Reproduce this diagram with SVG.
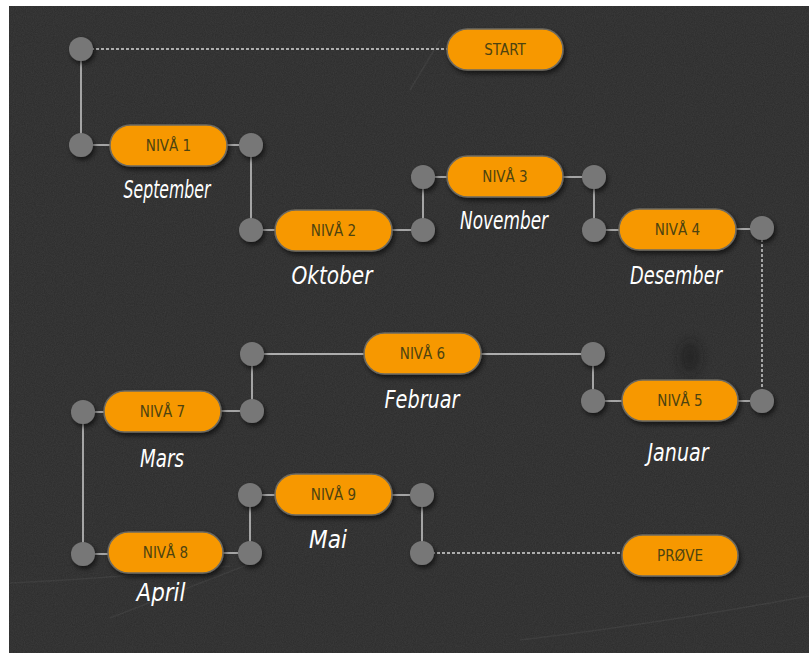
<svg xmlns="http://www.w3.org/2000/svg" width="809" height="653" viewBox="0 0 809 653">
  <defs>
    <filter id="grain" x="0" y="0" width="100%" height="100%">
      <feTurbulence type="fractalNoise" baseFrequency="0.9" numOctaves="2" seed="4" result="n"/>
      <feColorMatrix type="matrix" values="0 0 0 0 1  0 0 0 0 1  0 0 0 0 1  0 0 0 0.08 0" in="n"/>
    </filter>
    <filter id="soft" x="-100%" y="-100%" width="300%" height="300%">
      <feGaussianBlur stdDeviation="6"/>
    </filter>
    <filter id="shade" x="-30%" y="-40%" width="170%" height="200%">
      <feDropShadow dx="2" dy="3" stdDeviation="2.5" flood-color="#000" flood-opacity="0.6"/>
    </filter>
    <style>
      .board { fill: #2b2b2b; }
      .wire { stroke: #d6d6d6; stroke-width: 1.4; fill: none; }
      .dash { stroke: #d6d6d6; stroke-width: 1.4; fill: none; stroke-dasharray: 3 2; }
      .dot { fill: #777777; filter: url(#shade); }
      .pill { fill: #f79800; stroke: #6e6a60; stroke-width: 1.5; filter: url(#shade); }
      .lvl { font-family: "DejaVu Sans Condensed", "DejaVu Sans", sans-serif; font-size: 15px; fill: #4d4310; text-anchor: middle; }
      .month { font-family: "DejaVu Sans Condensed", "DejaVu Sans", sans-serif; font-style: italic; font-size: 25px; fill: #ffffff; text-anchor: middle; }
      .scratch { stroke: #ffffff; stroke-opacity: 0.05; stroke-width: 1.5; fill: none; }
    </style>
  </defs>

  <!-- chalkboard -->
  <rect x="0" y="0" width="809" height="653" fill="#ffffff"/>
  <rect class="board" x="9" y="6" width="800" height="647"/>
  <rect x="9" y="6" width="800" height="647" filter="url(#grain)"/>
  <g id="scratches">
    <path class="scratch" d="M10 583 Q120 578 230 566"/>
    <path class="scratch" d="M520 640 Q650 625 809 596"/>
    <path class="scratch" d="M110 618 L260 560"/>
    <path class="scratch" d="M410 90 L440 40"/>
    <ellipse cx="690" cy="357" rx="10" ry="16" fill="#151515" opacity="0.5" filter="url(#soft)"/>
  </g>

  <!-- connectors -->
  <g id="connectors">
    <line class="dash" x1="81" y1="49" x2="447" y2="49"/>
    <line class="wire" x1="81" y1="49" x2="81" y2="145"/>
    <line class="wire" x1="81" y1="145" x2="110" y2="145"/>
    <line class="wire" x1="227" y1="145" x2="251" y2="145"/>
    <line class="wire" x1="251" y1="145" x2="251" y2="230"/>
    <line class="wire" x1="251" y1="230" x2="275" y2="230"/>
    <line class="wire" x1="392" y1="230" x2="423" y2="230"/>
    <line class="wire" x1="423" y1="230" x2="423" y2="177"/>
    <line class="wire" x1="423" y1="177" x2="447" y2="177"/>
    <line class="wire" x1="563" y1="177" x2="594" y2="177"/>
    <line class="wire" x1="594" y1="177" x2="594" y2="230"/>
    <line class="wire" x1="594" y1="230" x2="619" y2="230"/>
    <line class="wire" x1="736" y1="229" x2="762" y2="229"/>
    <line class="dash" x1="762" y1="229" x2="762" y2="401"/>
    <line class="wire" x1="738" y1="401" x2="762" y2="401"/>
    <line class="wire" x1="593" y1="401" x2="622" y2="401"/>
    <line class="wire" x1="593" y1="401" x2="593" y2="354"/>
    <line class="wire" x1="252" y1="354" x2="593" y2="354"/>
    <line class="wire" x1="252" y1="354" x2="252" y2="411"/>
    <line class="wire" x1="221" y1="411" x2="252" y2="411"/>
    <line class="wire" x1="83" y1="412" x2="104" y2="412"/>
    <line class="wire" x1="83" y1="412" x2="83" y2="554"/>
    <line class="wire" x1="83" y1="554" x2="108" y2="554"/>
    <line class="wire" x1="223" y1="553" x2="250" y2="553"/>
    <line class="wire" x1="250" y1="553" x2="250" y2="495"/>
    <line class="wire" x1="250" y1="495" x2="275" y2="495"/>
    <line class="wire" x1="392" y1="495" x2="422" y2="495"/>
    <line class="wire" x1="422" y1="495" x2="422" y2="553"/>
    <line class="dash" x1="422" y1="553" x2="622" y2="553"/>
  </g>

  <!-- junction dots -->
  <g id="joints">
    <circle class="dot" cx="81" cy="49" r="12"/>
    <circle class="dot" cx="81" cy="145" r="12"/>
    <circle class="dot" cx="251" cy="145" r="12"/>
    <circle class="dot" cx="251" cy="230" r="12"/>
    <circle class="dot" cx="423" cy="230" r="12"/>
    <circle class="dot" cx="423" cy="177" r="12"/>
    <circle class="dot" cx="594" cy="177" r="12"/>
    <circle class="dot" cx="594" cy="230" r="12"/>
    <circle class="dot" cx="762" cy="228" r="12"/>
    <circle class="dot" cx="762" cy="401" r="12"/>
    <circle class="dot" cx="593" cy="401" r="12"/>
    <circle class="dot" cx="593" cy="354" r="12"/>
    <circle class="dot" cx="252" cy="354" r="12"/>
    <circle class="dot" cx="252" cy="411" r="12"/>
    <circle class="dot" cx="83" cy="412" r="12"/>
    <circle class="dot" cx="83" cy="554" r="12"/>
    <circle class="dot" cx="250" cy="553" r="12"/>
    <circle class="dot" cx="250" cy="495" r="12"/>
    <circle class="dot" cx="422" cy="495" r="12"/>
    <circle class="dot" cx="422" cy="553" r="12"/>
  </g>

  <!-- steps -->
  <g id="start">
    <rect class="pill" x="447" y="29" width="116" height="41" rx="20.5"/>
    <text class="lvl" x="505" y="55">START</text>
  </g>
  <g id="niva1">
    <rect class="pill" x="110" y="125" width="117" height="41" rx="20.5"/>
    <text class="lvl" x="168.5" y="151">NIVÅ 1</text>
    <text class="month" x="167" y="198" textLength="87" lengthAdjust="spacingAndGlyphs">September</text>
  </g>
  <g id="niva2">
    <rect class="pill" x="275" y="210" width="117" height="41" rx="20.5"/>
    <text class="lvl" x="333.5" y="236">NIVÅ 2</text>
    <text class="month" x="332" y="284" textLength="81" lengthAdjust="spacingAndGlyphs">Oktober</text>
  </g>
  <g id="niva3">
    <rect class="pill" x="447" y="156" width="116" height="41" rx="20.5"/>
    <text class="lvl" x="505" y="182">NIVÅ 3</text>
    <text class="month" x="504" y="229" textLength="88" lengthAdjust="spacingAndGlyphs">November</text>
  </g>
  <g id="niva4">
    <rect class="pill" x="619" y="209" width="117" height="41" rx="20.5"/>
    <text class="lvl" x="677.5" y="235">NIVÅ 4</text>
    <text class="month" x="676" y="284" textLength="92" lengthAdjust="spacingAndGlyphs">Desember</text>
  </g>
  <g id="niva5">
    <rect class="pill" x="622" y="380" width="116" height="41" rx="20.5"/>
    <text class="lvl" x="680" y="406">NIVÅ 5</text>
    <text class="month" x="678" y="461" textLength="61" lengthAdjust="spacingAndGlyphs">Januar</text>
  </g>
  <g id="niva6">
    <rect class="pill" x="364" y="333" width="117" height="41" rx="20.5"/>
    <text class="lvl" x="422.5" y="359">NIVÅ 6</text>
    <text class="month" x="422" y="408" textLength="75" lengthAdjust="spacingAndGlyphs">Februar</text>
  </g>
  <g id="niva7">
    <rect class="pill" x="104" y="391" width="117" height="41" rx="20.5"/>
    <text class="lvl" x="162.5" y="417">NIVÅ 7</text>
    <text class="month" x="162" y="467" textLength="44" lengthAdjust="spacingAndGlyphs">Mars</text>
  </g>
  <g id="niva8">
    <rect class="pill" x="108" y="532" width="115" height="41" rx="20.5"/>
    <text class="lvl" x="165.5" y="558">NIVÅ 8</text>
    <text class="month" x="161" y="601" textLength="49" lengthAdjust="spacingAndGlyphs">April</text>
  </g>
  <g id="niva9">
    <rect class="pill" x="275" y="474" width="117" height="41" rx="20.5"/>
    <text class="lvl" x="333.5" y="500">NIVÅ 9</text>
    <text class="month" x="328" y="548" textLength="38" lengthAdjust="spacingAndGlyphs">Mai</text>
  </g>
  <g id="prove">
    <rect class="pill" x="622" y="535" width="116" height="41" rx="20.5"/>
    <text class="lvl" x="680" y="561">PRØVE</text>
  </g>
</svg>
